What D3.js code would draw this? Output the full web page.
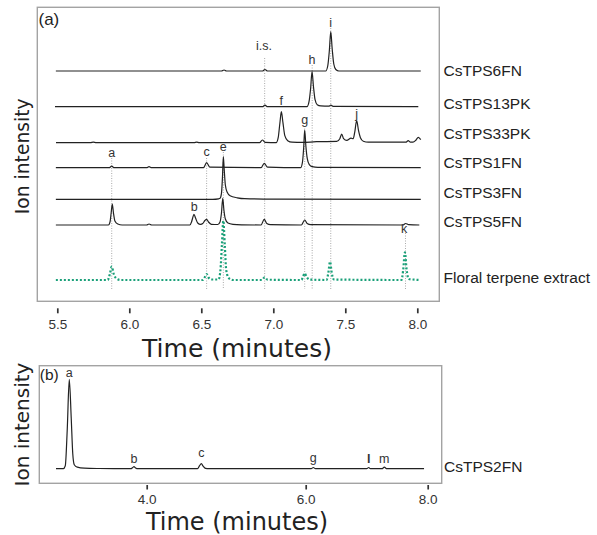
<!DOCTYPE html>
<html>
<head>
<meta charset="utf-8">
<script src="https://cdn.jsdelivr.net/npm/d3@7"></script>
<style>
  html, body { margin: 0; padding: 0; background: #fff; }
  svg { display: block; }
</style>
</head>
<body>
<div id="chart"></div>
<script>
// ---------------- DATA ----------------
// Panel (a): time axis ticks (minutes)
const ticksA = [5.5, 6.0, 6.5, 7.0, 7.5, 8.0];
const ticksB = [4.0, 6.0, 8.0];

// Trace names (panel a)
const traceNames = ["CsTPS6FN", "CsTPS13PK", "CsTPS33PK", "CsTPS1FN", "CsTPS3FN", "CsTPS5FN", "Floral terpene extract"];
// Baseline offset of each stacked trace (intensity units)
const traceOffsets = [230.3, 194.6, 158.6, 133.6, 102.0, 76.3, 21.3];

// Each trace: [time (min), ion intensity above its baseline]
const tps6FN = [[5.49,0],[6.64,0],[6.658,1],[6.675,0],[6.925,0],[6.942,1.5],[6.96,0],[7.364,0],[7.378,5],[7.389,20],[7.399,39.3],[7.409,22],[7.420,7],[7.434,1.5],[7.455,0],[8.024,0]];
const tps13PK = [[5.484,0],[6.925,0],[6.942,1.5],[6.96,0],[7.234,0],[7.248,5],[7.259,18],[7.269,35],[7.279,20],[7.290,7],[7.305,2],[7.33,0.8],[7.385,0.5],[7.40,1.5],[7.415,0.3],[8.007,0]];
const tps33PK = [[5.491,0],[5.73,0],[5.75,0.6],[5.77,0],[6.45,0],[6.468,0.6],[6.485,0],[6.905,0],[6.924,2.7],[6.943,0.3],[7.02,0],[7.034,5],[7.046,20],[7.056,31],[7.067,20],[7.08,7],[7.10,2],[7.13,0.5],[7.20,0.3],[7.30,1],[7.44,1.3],[7.462,4],[7.475,8.7],[7.488,4],[7.51,2.3],[7.54,4.5],[7.555,4],[7.565,10],[7.579,22],[7.592,12],[7.605,5],[7.625,1.5],[7.66,0.5],[7.92,0.5],[7.937,2],[7.952,0.5],[7.97,0.5],[7.99,2.5],[8.007,5.3],[8.024,3]];
const tps1FN = [[5.49,0],[5.86,0],[5.878,1.5],[5.895,0],[6.12,0],[6.137,1],[6.155,0],[6.515,0],[6.537,5],[6.56,0.5],[6.915,0],[6.937,4.4],[6.96,0.5],[7.19,0],[7.202,5],[7.211,20],[7.218,37.7],[7.226,22],[7.236,9],[7.25,3],[7.27,1],[7.31,0.3],[8.024,0]];
const tps3FN = [[5.49,0],[6.58,0],[6.62,0.5],[6.63,1],[6.640,6],[6.647,22],[6.653,42.7],[6.659,30],[6.667,14.3],[6.68,7],[6.70,3.5],[6.75,1.5],[6.80,0.6],[7.0,0.2],[8.024,0]];
const tps5FN = [[5.49,0],[5.855,0],[5.866,3],[5.874,12],[5.882,21],[5.890,12],[5.90,4],[5.92,1],[5.95,0],[6.12,0],[6.137,1],[6.155,0],[6.42,0],[6.432,3],[6.440,7],[6.449,10.7],[6.460,7],[6.475,2],[6.495,0.6],[6.51,1.5],[6.525,4.5],[6.537,5.7],[6.55,3],[6.57,0.7],[6.615,0.5],[6.630,3],[6.640,12],[6.649,26.7],[6.657,15],[6.667,6],[6.685,2],[6.72,0.7],[6.78,0.2],[6.915,0],[6.937,5.7],[6.955,1.5],[6.98,0.3],[7.195,0],[7.218,5],[7.235,1.5],[7.26,0.3],[7.90,0],[7.919,1.5],[7.94,0.3],[8.014,0]];
const floralExtract = [[5.49,0],[5.85,0],[5.865,6],[5.878,13.3],[5.892,6],[5.91,1.5],[5.94,0],[6.51,0],[6.525,3],[6.537,6],[6.55,2.5],[6.57,0.5],[6.62,0.5],[6.633,10],[6.643,35],[6.653,59.3],[6.663,35],[6.673,10],[6.69,2],[6.72,0],[6.92,0],[6.94,2.7],[6.96,0.3],[7.195,0],[7.206,3],[7.218,6.7],[7.232,3],[7.25,0.5],[7.37,0],[7.382,7],[7.394,18.3],[7.406,7],[7.42,0.5],[7.89,0],[7.902,10],[7.914,27.7],[7.926,10],[7.94,1],[8.019,0]];
const tracesA = [tps6FN, tps13PK, tps33PK, tps1FN, tps3FN, tps5FN, floralExtract];

// Peak letters (panel a)
const peakLabelsA = ["i", "i.s.", "h", "f", "g", "j", "a", "c", "e", "b", "k"];
const peakTimesA  = [7.399, 6.935, 7.269, 7.056, 7.218, 7.579, 5.878, 6.537, 6.653, 6.451, 7.909];

// Retention-time reference lines (panel a)
const markerTimes = [5.878, 6.537, 6.653, 6.94, 7.218, 7.27, 7.399, 7.918];

// Panel (b)
const tps2FNName = "CsTPS2FN";
const tps2FN = [[2.859,0],[2.951,0],[2.976,3],[3.001,40],[3.026,89.3],[3.051,50],[3.070,15],[3.089,4],[3.127,1.5],[3.215,0.5],[3.403,0.2],[3.80,0],[3.825,1.3],[3.840,2],[3.86,0.8],[3.89,0],[4.64,0],[4.665,3],[4.687,5],[4.71,2.5],[4.74,0.3],[4.78,0],[6.09,0],[6.125,1.2],[6.16,0],[7.00,0],[7.033,1.2],[7.06,0],[7.25,0],[7.289,1.5],[7.33,0],[7.94,0]];
const peakLabelsB = ["a", "b", "c", "g", "l", "m"];
const peakTimesB  = [3.026, 3.840, 4.687, 6.125, 7.033, 7.289];

// ---------------- LAYOUT (positions / styles) ----------------
const W = 597, H = 535;
const boxA = {x0: 37.3, y0: 7.3, x1: 439.3, y1: 301.3};
const boxB = {x0: 39.3, y0: 365.7, x1: 441.7, y1: 483.3};
// label heights (intensity units on the panel-a y scale)
const peakLevelsA = [274.3, 251.3, 237.3, 196.3, 177.3, 183, 144.3, 145.3, 150.6, 90.3, 68.3];
const markerTopsA = [143.3, 143.3, 149.3, 243.3, 175.3, 236.3, 273.3, 68.3];
const markerBottomA = 12.3;
const nameLevelsA = [225.3, 192, 162, 133.3, 103.3, 74, 18.7];
const traceOffsetB = 14.6;
const peakLevelsB = [106.6, 20.0, 26.6, 21.6, 20.0, 20.6];
const nameLevelB = 11.6;

const ink = "#222";
const green = "#1aa079";
const sansA = "'Liberation Sans', Arial, sans-serif";
const sansT = "'DejaVu Sans', Verdana, sans-serif";

// ---------------- SCALES ----------------
const xA = d3.scaleLinear().domain([5.5, 8.0]).range([57.3, 417.3]);
const yA = d3.scaleLinear().domain([0, 294]).range([boxA.y1, boxA.y0]);
const xB = d3.scaleLinear().domain([4, 6, 8]).range([146.7, 305.7, 427.7]);
const yB = d3.scaleLinear().domain([0, 117.6]).range([boxB.y1, boxB.y0]);

const svg = d3.select("#chart").append("svg")
  .attr("width", W).attr("height", H)
  .attr("viewBox", `0 0 ${W} ${H}`);

// ---------------- PANEL A ----------------
const gA = svg.append("g");

// frame
gA.append("rect")
  .attr("x", boxA.x0).attr("y", boxA.y0)
  .attr("width", boxA.x1 - boxA.x0).attr("height", boxA.y1 - boxA.y0)
  .attr("fill", "none").attr("stroke", "#a3a3a3").attr("stroke-width", 1.4);

// reference lines
gA.append("g").selectAll("line").data(markerTimes).join("line")
  .attr("x1", d => xA(d)).attr("x2", d => xA(d))
  .attr("y1", (d, i) => yA(markerTopsA[i])).attr("y2", yA(markerBottomA))
  .attr("stroke", "#aaa").attr("stroke-width", 1).attr("stroke-dasharray", "1,1.5");

// traces
tracesA.forEach((tr, i) => {
  const off = traceOffsets[i];
  const line = d3.line()
    .x(d => xA(d[0]))
    .y(d => yA(off + d[1]))
    .curve(d3.curveMonotoneX);
  const isFloral = i === tracesA.length - 1;
  gA.append("path")
    .datum(tr)
    .attr("d", line)
    .attr("fill", "none")
    .attr("stroke", isFloral ? green : ink)
    .attr("stroke-width", isFloral ? 2.2 : 1.2)
    .attr("stroke-dasharray", isFloral ? "2,2" : null)
    .attr("stroke-linejoin", "round");
});

// trace names
gA.append("g").selectAll("text").data(traceNames).join("text")
  .attr("x", 443.5)
  .attr("y", (d, i) => yA(nameLevelsA[i]))
  .attr("font-family", sansA).attr("font-size", 15.5).attr("fill", ink)
  .text(d => d);

// peak letters
gA.append("g").selectAll("text").data(peakLabelsA).join("text")
  .attr("x", (d, i) => xA(peakTimesA[i]))
  .attr("y", (d, i) => yA(peakLevelsA[i]))
  .attr("text-anchor", "middle")
  .attr("font-family", sansA).attr("font-size", 12.5).attr("fill", "#333")
  .text(d => d);

// axis
const axA = gA.append("g").attr("transform", "translate(0,308.3)")
  .call(d3.axisBottom(xA).tickValues(ticksA).tickFormat(d3.format(".1f")).tickSize(5).tickPadding(6.4));
axA.select(".domain").remove();
axA.selectAll(".tick line").attr("stroke", "#333").attr("stroke-width", 1.7);
axA.selectAll(".tick text").attr("font-family", sansA).attr("font-size", 13.5).attr("fill", "#333");

gA.append("text")
  .attr("x", 237).attr("y", 357.3)
  .attr("text-anchor", "middle")
  .attr("font-family", sansT).attr("font-size", 25).attr("fill", ink)
  .text("Time (minutes)");

gA.append("text")
  .attr("transform", `translate(28.5,${(boxA.y0 + boxA.y1) / 2 + 2}) rotate(-90)`)
  .attr("text-anchor", "middle")
  .attr("font-family", sansT).attr("font-size", 18.7).attr("fill", ink)
  .text("Ion intensity");

gA.append("text")
  .attr("x", 38.5).attr("y", 25)
  .attr("font-family", sansA).attr("font-size", 17).attr("fill", ink)
  .text("(a)");

// ---------------- PANEL B ----------------
const gB = svg.append("g");

gB.append("rect")
  .attr("x", boxB.x0).attr("y", boxB.y0)
  .attr("width", boxB.x1 - boxB.x0).attr("height", boxB.y1 - boxB.y0)
  .attr("fill", "none").attr("stroke", "#a3a3a3").attr("stroke-width", 1.4);

const lineB = d3.line()
  .x(d => xB(d[0]))
  .y(d => yB(traceOffsetB + d[1]))
  .curve(d3.curveMonotoneX);
gB.append("path").datum(tps2FN).attr("d", lineB)
  .attr("fill", "none").attr("stroke", ink).attr("stroke-width", 1.2)
  .attr("stroke-linejoin", "round");

gB.append("g").selectAll("text").data(peakLabelsB).join("text")
  .attr("x", (d, i) => xB(peakTimesB[i]))
  .attr("y", (d, i) => yB(peakLevelsB[i]))
  .attr("text-anchor", "middle")
  .attr("font-family", sansA).attr("font-size", 12.5).attr("fill", "#333")
  .attr("font-weight", d => d === "l" ? "bold" : null)
  .text(d => d);

gB.append("text")
  .attr("x", 444).attr("y", yB(nameLevelB))
  .attr("font-family", sansA).attr("font-size", 15.5).attr("fill", ink)
  .text(tps2FNName);

const axB = gB.append("g").attr("transform", "translate(0,485)")
  .call(d3.axisBottom(xB).tickValues(ticksB).tickFormat(d3.format(".1f")).tickSize(4.5).tickPadding(5.2));
axB.select(".domain").remove();
axB.selectAll(".tick line").attr("stroke", "#333").attr("stroke-width", 1.7);
axB.selectAll(".tick text").attr("font-family", sansA).attr("font-size", 13.5).attr("fill", "#333");

gB.append("text")
  .attr("x", 237).attr("y", 530)
  .attr("text-anchor", "middle")
  .attr("font-family", sansT).attr("font-size", 24).attr("fill", ink)
  .text("Time (minutes)");

gB.append("text")
  .attr("transform", `translate(28.5,${(boxB.y0 + boxB.y1) / 2}) rotate(-90)`)
  .attr("text-anchor", "middle")
  .attr("font-family", sansT).attr("font-size", 20).attr("fill", ink)
  .text("Ion intensity");

gB.append("text")
  .attr("x", 39.8).attr("y", 380)
  .attr("font-family", sansA).attr("font-size", 15.5).attr("fill", ink)
  .text("(b)");
</script>
</body>
</html>
